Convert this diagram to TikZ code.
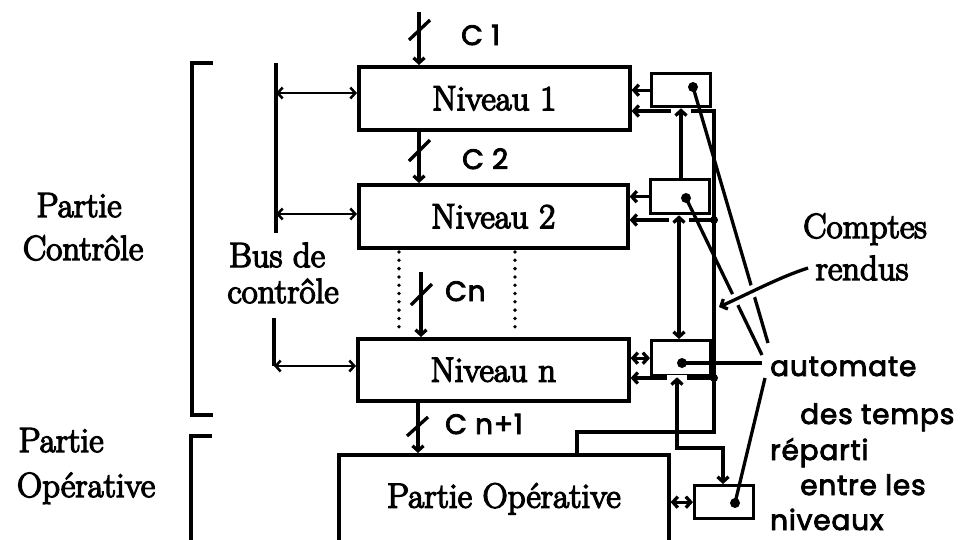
\documentclass[tikz,border=0pt]{standalone}
\usepackage{fontspec}
\newfontfamily\serf{Latin Modern Roman}[FakeBold=4]
\newfontfamily\sansf{Poppins}[LetterSpace=3,FakeBold=3]
\usetikzlibrary{arrows.meta}
\begin{document}
\begin{tikzpicture}[x=1pt,y=-1pt,
  serif/.style={font=\serf\fontsize{35}{40}\selectfont, inner sep=0},
  lab/.style={font=\sansf\fontsize{28}{32}\selectfont, anchor=base west, inner sep=0},
  box/.style={draw, line width=3.6pt, inner sep=0, anchor=north west, font=\serf\fontsize{35}{40}\selectfont},
  sbox/.style={draw, line width=3.3pt, inner sep=0, anchor=north west, minimum width=59pt},
  ln/.style={line width=3.3pt},
  thinln/.style={line width=2.5pt},
  dotline/.style={line width=3.8pt, line cap=round, dash pattern=on 0pt off 8.3pt},
  >={Straight Barb[length=5pt,width=11pt]},
  dotn/.style={circle, fill, inner sep=0, minimum size=10pt},
  jdot/.style={circle, fill, inner sep=0, minimum size=8pt},
]
\clip (0,0) rectangle (969,539);
% main boxes
\node[box, minimum width=271pt, minimum height=63pt] (n1) at (357,65) {Niveau 1};
\node[box, minimum width=269pt, minimum height=63pt] (n2) at (357,183) {Niveau 2};
\node[box, minimum width=271pt, minimum height=62pt] (nn) at (356,337) {Niveau n};
\node[box, minimum width=330pt, minimum height=88pt] (po) at (337,453) {Partie Opérative};
% small automaton boxes
\node[sbox, minimum height=33pt] (b1) at (650,72) {};
\node[sbox, minimum height=34pt] (b2) at (649,178) {};
\node[sbox, minimum height=35pt] (bn) at (650,339) {};
\node[sbox, minimum height=33pt] (bo) at (693,484) {};
% left labels and brackets
\node[serif, anchor=base] (pc1) at (79,217) {Partie};
\node[serif, anchor=base] (pc2) at (83,260) {Contrôle};
\node[serif, anchor=base] (po1) at (61,452) {Partie};
\node[serif, anchor=base] (po2) at (86,497) {Opérative};
\coordinate (k1a) at (213,63); \coordinate (k1b) at (192,63);
\coordinate (k1c) at (192,415); \coordinate (k1d) at (213,415);
\draw[ln] (k1a) -- (k1b) -- (k1c) -- (k1d);
\coordinate (k2a) at (212,436); \coordinate (k2b) at (191,436); \coordinate (k2c) at (191,545);
\draw[ln] (k2a) -- (k2b) -- (k2c);
% control bus
\coordinate (bt) at (276,63); \coordinate (bb) at (276,233);
\draw[ln] (bt) -- (bb);
\coordinate (a1) at (276,93); \coordinate (a2) at (276,214);
\draw[thinln,<->] (a1) -- (a1 -| n1.west);
\draw[thinln,<->] (a2) -- (a2 -| n2.west);
\coordinate (bl) at (274,318); \coordinate (a3) at (274,366);
\draw[ln] (bl) -- (a3);
\draw[thinln,<->] (a3) -- (a3 -| nn.west);
\node[serif, anchor=base] (bus1) at (277,267) {Bus de};
\node[serif, anchor=base] (bus2) at (283,303) {contrôle};
% dotted lines
\coordinate (p1) at (399,252); \coordinate (p2) at (399,327);
\coordinate (p3) at (515,252); \coordinate (p4) at (515,327);
\draw[dotline] (p1) -- (p2);
\draw[dotline] (p3) -- (p4);
% commands C
\coordinate (c1s) at (419,12);
\draw[ln,->] (c1s) -- (c1s |- n1.north);
\draw[ln] (409,40) -- (430,20);
\node[lab] (lc1) at (461,45) {C 1};
\draw[ln,->] (419,0 |- n1.south) -- (419,0 |- n2.north);
\draw[ln] (409,161) -- (430,140);
\node[lab] (lc2) at (462,169) {C 2};
\coordinate (cns) at (421,272);
\draw[ln,->] (cns) -- (cns |- nn.north);
\draw[ln] (411,305) -- (432,284);
\node[lab] (lcn) at (445,301) {Cn};
\draw[ln,->] (418,0 |- nn.south) -- (418,0 |- po.north);
\draw[ln] (407,436) -- (428,417);
\node[lab] (lcn1) at (445,434) {C n+1};
% comptes rendus lines
\coordinate (r1) at (714,111); \coordinate (r2) at (714,220); \coordinate (r3) at (714,378);
\coordinate (q1) at (577,432); \coordinate (q2) at (714,432);
\draw[ln,->] (po.north -| q1) -- (q1) -- (q2) -- (r1) -- (r1 -| n1.east);
\draw[ln,->] (r2) -- (r2 -| n2.east);
\draw[ln,->] (r3) -- (r3 -| nn.east);
\node[jdot] at (r2) {};
\node[jdot] at (r3) {};
% automaton outputs to levels
\draw[ln,->] (b1.west) -- (b1.west -| n1.east);
\draw[ln,->] (b2.west) -- (b2.west -| n2.east);
\draw[ln,<->] (bn.west) -- (bn.west -| nn.east);
% gaps where the chain crosses the report lines
\fill[white] (671,108) rectangle (691,115);
\fill[white] (669,217) rectangle (689,224);
\fill[white] (667,375) rectangle (687,382);
% automaton chain
\draw[ln,->] (681,0 |- b2.north) -- (681,0 |- b1.south);
\draw[ln,<->] (679,0 |- b2.south) -- (679,0 |- bn.north);
\coordinate (s1) at (677,448); \coordinate (s2) at (723,448);
\draw[ln,<->] (bn.south -| s1) -- (s1) -- (s2) -- (bo.north -| s2);
\draw[ln,<->] (bo.west -| po.east) -- (bo.west);
% automaton dots and lines to label
\node[dotn] (d1) at (693,87) {};
\node[dotn] (d2) at (686,198) {};
\node[dotn] (d3) at (682,363) {};
\node[dotn] (d4) at (735,503) {};
\coordinate (e1) at (768,343); \coordinate (e2) at (762,355);
\coordinate (e3) at (762,363); \coordinate (e4) at (765,378);
\draw[ln] (d1.center) -- (e1);
\draw[ln] (d2.center) -- (e2);
\draw[ln] (d3.center) -- (e3);
\draw[ln] (d4.center) -- (e4);
% comptes rendus label and arrow
\coordinate (cr) at (808,268); \coordinate (ct) at (719,307);
\draw[white, line width=12pt, shorten >=15pt] (cr) .. controls (780,277) and (752,292) .. (ct);
\draw[ln,->] (cr) .. controls (780,277) and (752,292) .. (ct);
\node[serif, anchor=base] (cpt1) at (865,238) {Comptes};
\node[serif, anchor=base] (cpt2) at (862,280) {rendus};
% automate label
\node[lab] (au1) at (770,376) {automate};
\node[lab] (au2) at (800,424) {des temps};
\node[lab] (au3) at (770,460) {réparti};
\node[lab] (au4) at (800,495) {entre les};
\node[lab] (au5) at (770,530) {niveaux};
\end{tikzpicture}
\end{document}
